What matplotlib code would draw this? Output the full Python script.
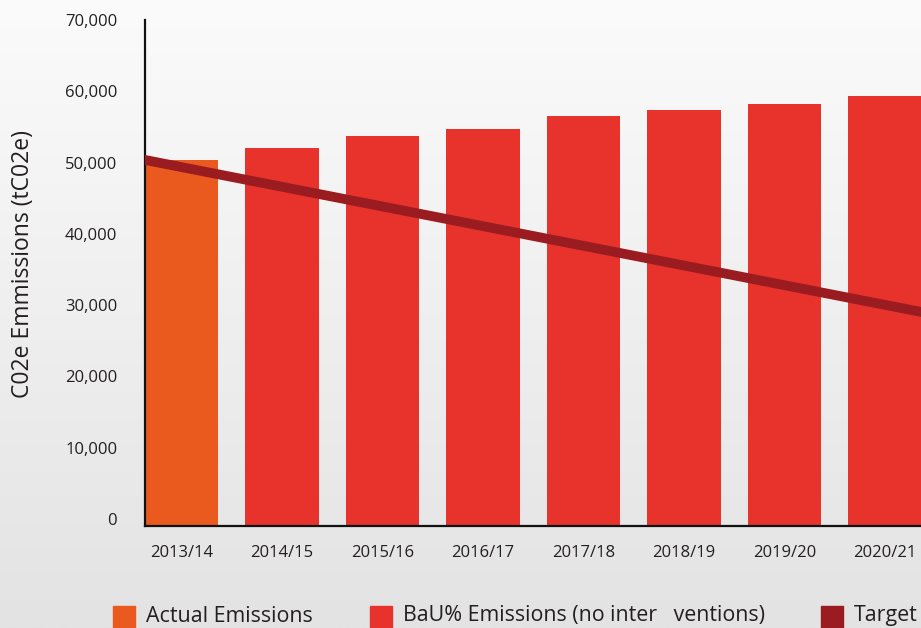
import numpy as np
import matplotlib
matplotlib.use("Agg")
import matplotlib.pyplot as plt
from matplotlib.patches import Rectangle
from matplotlib.transforms import ScaledTranslation
from matplotlib.colors import LinearSegmentedColormap

# ---- data ----
categories = ["2013/14", "2014/15", "2015/16", "2016/17", "2017/18",
              "2018/19", "2019/20", "2020/21"]
actual_emissions = [51300]                      # 2013/14
bau_emissions = [53000, 54700, 55700, 57500, 58350, 59200, 60300]  # 2014/15 .. 2020/21
# target trajectory (incl. one year either side so the line runs edge to edge)
target_years = ["2012/13"] + categories + ["2021/22"]
target_values = [53100, 50330, 47570, 44810, 42050, 39290, 36530, 33770, 31010, 28250]
yticks = [0, 10000, 20000, 30000, 40000, 50000, 60000, 70000]

c_actual = "#EA591D"
c_bau = "#E7332B"
c_target = "#9A1C21"
c_text = "#231F20"

plt.rcParams['font.family'] = ['Open Sans', 'DejaVu Sans']

W, H = 921, 628
fig = plt.figure(figsize=(W / 100, H / 100), dpi=100)

# gradient background
bg = fig.add_axes([0, 0, 1, 1], zorder=-10)
grad = np.linspace(0, 1, 256).reshape(-1, 1)
cmap = LinearSegmentedColormap.from_list("bg", ["#FBFBFB", "#E3E3E3"])
bg.imshow(grad, aspect="auto", cmap=cmap, extent=[0, 1, 0, 1], origin="upper")
bg.set_axis_off()

x0, y0 = 145, 526
top = 20
ax = fig.add_axes([x0 / W, (H - y0) / H, 1 - x0 / W, (y0 - top) / H])
ax.patch.set_alpha(0)

xpos = np.arange(len(categories))
bw = 0.736
ax.bar(xpos[:1], actual_emissions, width=bw, color=c_actual, zorder=2)
ax.bar(xpos[1:], bau_emissions, width=bw, color=c_bau, zorder=2)
tx = np.arange(-1, len(categories) + 1)
ax.plot(tx, target_values, color=c_target, linewidth=7, zorder=3,
        solid_capstyle="butt")

ax.set_xlim(-0.363, 7.358)
ax.set_ylim(0, 70960)
ax.set_yticks(yticks)
ax.set_yticklabels([f"{v:,}" for v in yticks])
ax.set_xticks(xpos)
ax.set_xticklabels(categories)
ax.tick_params(axis="both", length=0, labelsize=12, colors=c_text)
ax.tick_params(axis="y", pad=20)
ax.tick_params(axis="x", pad=14)
for lab in ax.get_yticklabels():
    lab.set_transform(lab.get_transform() + ScaledTranslation(0, 5 / 72, fig.dpi_scale_trans))

for s in ["top", "right"]:
    ax.spines[s].set_visible(False)
for s in ["left", "bottom"]:
    ax.spines[s].set_linewidth(1.6)
    ax.spines[s].set_color("#111111")

fig.text(23 / W, 1 - 264 / H, "C02e Emmissions (tC02e)", rotation=90,
         ha="center", va="center", fontsize=16.5, color=c_text)

# legend
leg_y = 616
items = [(113, c_actual, "Actual Emissions"),
         (370, c_bau, "BaU% Emissions (no inter   ventions)"),
         (821, c_target, "Target")]
for lx, col, txt in items:
    fig.patches.append(Rectangle((lx / W, (H - 640) / H), 22 / W, 34 / H,
                                 transform=fig.transFigure, color=col))
    fig.text((lx + 33) / W, 1 - leg_y / H, txt, ha="left", va="center",
             fontsize=15.4, color=c_text)

fig.savefig("out.png", dpi=100)
